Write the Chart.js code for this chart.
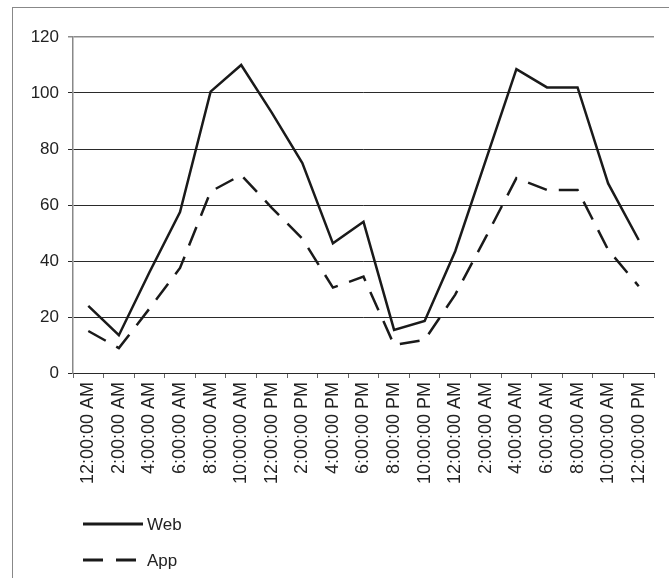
<!DOCTYPE html>
<html>
<head>
<meta charset="utf-8">
<script src="https://cdn.jsdelivr.net/npm/chart.js@4/dist/chart.umd.min.js"></script>
<style>
  body { margin: 0; background: #fff; }
  #wrap { position: relative; width: 669px; height: 578px; }
  #frame { position: absolute; left: 12px; top: 7px; right: 0; bottom: 0;
           border-left: 1.5px solid #888; border-top: 1.5px solid #888; pointer-events: none; }
  canvas { position: absolute; left: 0; top: 0; }
</style>
</head>
<body>
<div id="wrap">
  <canvas id="trafficChart" width="669" height="578"></canvas>
  <div id="frame"></div>
</div>
<script>
const timeLabels = [
  '12:00:00 AM', '2:00:00 AM', '4:00:00 AM', '6:00:00 AM', '8:00:00 AM', '10:00:00 AM',
  '12:00:00 PM', '2:00:00 PM', '4:00:00 PM', '6:00:00 PM', '8:00:00 PM', '10:00:00 PM',
  '12:00:00 AM', '2:00:00 AM', '4:00:00 AM', '6:00:00 AM', '8:00:00 AM', '10:00:00 AM',
  '12:00:00 PM'
];
const webValues = [24, 13.5, 36, 57.5, 100.5, 110, 93, 75, 46.3, 54, 15.4, 18.6, 43.5, 76, 108.5, 102, 102, 67.7, 47.5];
const appValues = [15, 8.9, 23, 37.5, 64.8, 70.7, 59, 48, 30.5, 34.4, 10, 11.8, 28, 48.5, 69.6, 65.4, 65.4, 44, 31];
const yTicks = [0, 20, 40, 60, 80, 100, 120];

const fontFamily = '"Liberation Sans", Arial, sans-serif';
const textFont = { family: fontFamily, size: 17 };
const xLabelFont = { family: fontFamily, size: 18 };

// legend drawn as stacked lines under the axis labels
const stackedLegend = {
  id: 'stackedLegend',
  afterDraw(chart, args, opts) {
    const ctx = chart.ctx;
    chart.data.datasets.forEach((ds, i) => {
      const y = opts.top + i * opts.rowGap;
      ctx.save();
      ctx.strokeStyle = ds.borderColor;
      ctx.lineWidth = 3;
      ctx.setLineDash(ds.legendDash || []);
      ctx.beginPath();
      ctx.moveTo(opts.left, y);
      ctx.lineTo(opts.left + opts.lineWidth, y);
      ctx.stroke();
      ctx.setLineDash([]);
      ctx.fillStyle = '#222';
      ctx.font = textFont.size + 'px ' + textFont.family;
      ctx.textBaseline = 'middle';
      ctx.fillText(ds.label, opts.left + opts.lineWidth + 4, y + 1);
      ctx.restore();
    });
  }
};

const gridColor = (c) => c.tick && c.tick.value === 120 ? '#8c8c8c' : '#2a2a2a';

new Chart(document.getElementById('trafficChart'), {
  type: 'line',
  data: {
    labels: timeLabels,
    datasets: [
      {
        label: 'Web',
        data: webValues,
        borderColor: '#1a1a1a',
        borderWidth: 2.5,
        pointRadius: 0,
        tension: 0,
        fill: false,
      },
      {
        label: 'App',
        data: appValues,
        borderColor: '#1a1a1a',
        borderWidth: 2.5,
        borderDash: [20, 12],
        legendDash: [20, 13],
        pointRadius: 0,
        tension: 0,
        fill: false,
      },
    ],
  },
  options: {
    responsive: false,
    animation: false,
    layout: { padding: { top: 37, right: 15, bottom: 88, left: 0 } },
    plugins: {
      legend: { display: false },
      tooltip: { enabled: false },
      stackedLegend: { left: 83, top: 524, rowGap: 36, lineWidth: 60 },
    },
    scales: {
      x: {
        offset: true,
        grid: { offset: true, drawOnChartArea: false, drawTicks: true, tickLength: 5, color: '#666' },
        border: { color: '#2a2a2a', width: 1 },
        ticks: {
          autoSkip: false,
          minRotation: 90,
          maxRotation: 90,
          padding: 4,
          color: '#222',
          font: xLabelFont,
        },
        afterFit: (s) => { s.height = 117; },
      },
      y: {
        min: 0,
        max: 120,
        afterBuildTicks: (s) => { s.ticks = yTicks.map((v) => ({ value: v })); },
        grid: { color: gridColor, tickColor: gridColor, tickLength: 5, lineWidth: (c) => c.tick && c.tick.value === 120 ? 1.5 : 1 },
        border: { color: '#888', width: 1.5 },
        ticks: { padding: 9, color: '#222', font: textFont },
        afterFit: (s) => { s.width = 73; },
      },
    },
  },
  plugins: [stackedLegend],
});
</script>
</body>
</html>
